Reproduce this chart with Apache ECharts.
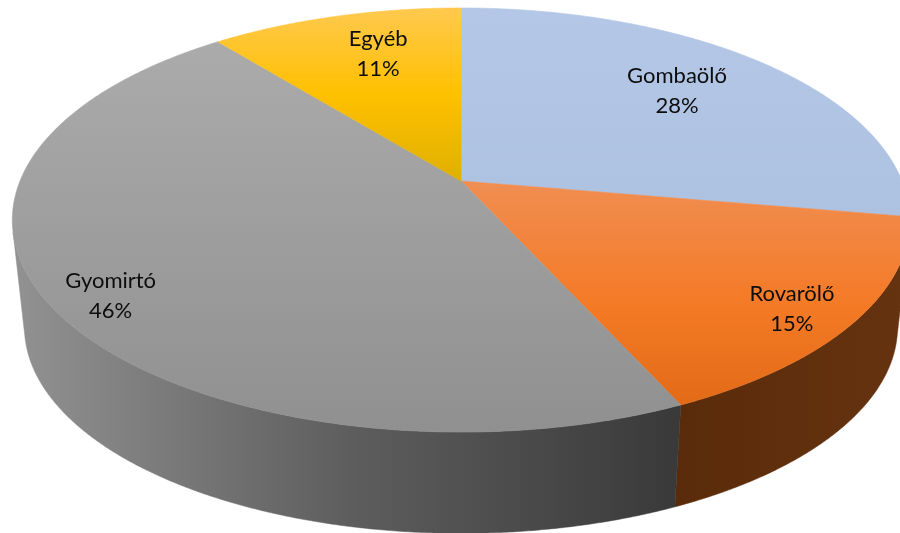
<!DOCTYPE html>
<html>
<head>
<meta charset="utf-8">
<style>html,body{margin:0;padding:0;background:#fff}#c{width:900px;height:533px}</style>
<script src="https://cdn.jsdelivr.net/npm/echarts@6/dist/echarts.min.js"></script>
</head>
<body>
<div id="c"></div>
<script>
// Data, clockwise from 12 o'clock (estimated from the slice boundaries; labels show them rounded)
const categories = ['Gombaölő', 'Rovarölő', 'Gyomirtó', 'Egyéb'];
const shares = [27.7, 15.49, 45.96, 10.85];

// Drawing styles
const topStops = [
  [[0, '#b4c7e7'], [1, '#adc1e1']],
  [[0, '#f08e52'], [0.55, '#f47a26'], [1, '#e36a16']],
  [[0, '#ababab'], [1, '#909090']],
  [[0, '#ffc94f'], [0.5, '#ffc000'], [1, '#dfb000']]
];
const wallStops = [
  [[0, '#5f7391'], [1, '#5f7391']],
  [[0, '#5a2b0a'], [1, '#66330f']],
  [[0, '#929292'], [0.5, '#5e5e5e'], [1, '#393939']],
  [[0, '#7f6000'], [1, '#7f6000']]
];
// Label anchor per slice on the unit disc
const labelAnchors = [[0.533, -0.478], [0.673, 0.560], [-0.720, 0.509], [-0.212, -0.700]];

// Perspective of the disc
const view = { cx: 461, cy: 181, a: 441, b: 204.9, k: 0.184, lowerScale: 0.973, lowerCy: 289 };

function project(u, v, lower) {
  const s = 1 / (1 - view.k * v);
  const f = lower ? view.lowerScale : 1;
  const cy = lower ? view.lowerCy : view.cy;
  return [view.cx + view.a * f * u * s, cy + view.b * f * v * s];
}
function rim(angle, lower) {
  return project(Math.sin(angle), -Math.cos(angle), lower);
}
function grad(stops, horizontal) {
  return new echarts.graphic.LinearGradient(0, 0, horizontal ? 1 : 0, horizontal ? 0 : 1,
    stops.map(s => ({ offset: s[0], color: s[1] })));
}
// A rim step faces the viewer when the wall quad has the same winding as at the front of the disc
function facesViewer(t) {
  const p = rim(t, false), q = rim(t + 0.004, false), l = rim(t, true);
  return (q[0] - p[0]) * (l[1] - p[1]) - (q[1] - p[1]) * (l[0] - p[0]) < 0;
}

const total = shares.reduce((a, b) => a + b, 0);
const starts = [];
shares.reduce((acc, v, i) => { starts[i] = acc; return acc + v; }, 0);

function renderSlice(params, api) {
  const i = params.dataIndex;
  const value = api.value(0);
  const a0 = starts[i] / total * Math.PI * 2;
  const a1 = a0 + value / total * Math.PI * 2;
  const steps = Math.ceil((a1 - a0) / 0.006);
  const upper = [], wallUp = [], wallLow = [];
  for (let n = 0; n <= steps; n++) {
    const t = a0 + (a1 - a0) * n / steps;
    upper.push(rim(t, false));
    if (facesViewer(t)) {
      wallUp.push(rim(t, false));
      wallLow.push(rim(t, true));
    }
  }
  const apex = project(0, 0, false);
  const pos = project(labelAnchors[i][0], labelAnchors[i][1], false);
  const pct = Math.round(value / total * 100) + '%';
  const children = [];
  if (wallUp.length > 1) {
    const wallFill = grad(wallStops[i], true);
    children.push({ type: 'polygon', z2: 1 + i, shape: { points: wallUp.concat(wallLow.slice().reverse()) },
      style: { fill: wallFill, stroke: wallFill, lineWidth: 0.5 } });
  }
  const topFill = grad(topStops[i], false);
  children.push({ type: 'polygon', z2: 10 + i, shape: { points: [apex].concat(upper) },
    style: { fill: topFill, stroke: topFill, lineWidth: 0.6 } });
  children.push({ type: 'text', z2: 30, x: pos[0], y: pos[1],
    style: { text: categories[i] + '\n' + pct, fill: '#0d0d0d', align: 'center', verticalAlign: 'middle',
      font: '22px Lato', lineHeight: 30 } });
  return { type: 'group', children };
}

const chart = echarts.init(document.getElementById('c'), null, { renderer: 'canvas' });
chart.setOption({
  animation: false,
  backgroundColor: '#ffffff',
  series: [{
    type: 'custom',
    coordinateSystem: 'none',
    renderItem: renderSlice,
    data: shares.map((v, i) => ({ name: categories[i], value: [v] }))
  }]
});
</script>
</body>
</html>
